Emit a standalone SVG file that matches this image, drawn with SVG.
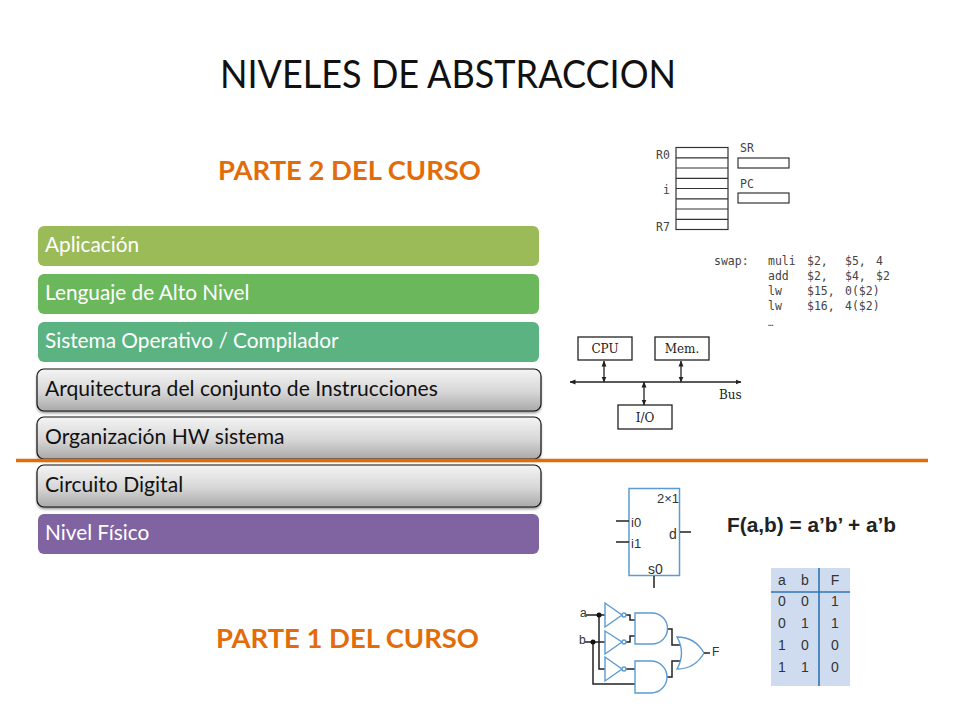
<svg xmlns="http://www.w3.org/2000/svg" width="960" height="720" viewBox="0 0 960 720">
<style>
text{font-family:"Lato","Open Sans","Liberation Sans",sans-serif}
.bar{font-size:20.800px;fill:#fff}
.gr{font-size:21.100px;fill:#111}
.head{font-size:27.400px;font-weight:700;fill:#e36c0a}
.k{fill:none;stroke:#333;stroke-width:1.2}
.m{font-family:"DejaVu Sans Mono",monospace;font-size:11.5px;fill:#444}
.s{font-family:"DejaVu Serif","Liberation Serif",serif;font-size:12px;fill:#222}
.b{fill:none;stroke:#222;stroke-width:1.3}
.bl{fill:#fff;stroke:#5b9bd5;stroke-width:1.4}
.w{fill:none;stroke:#222;stroke-width:1.5}
.a{font-family:"Liberation Sans",sans-serif;fill:#333;font-size:13px}
.f{font-family:"Liberation Sans",sans-serif;font-weight:700;font-size:20px;fill:#222}
.t{font-family:"Liberation Sans",sans-serif;fill:#333;font-size:14px;text-anchor:middle}
</style>
<defs>
<linearGradient id="g" x1="0" y1="0" x2="0" y2="1"><stop offset="0" stop-color="#f4f4f4"/><stop offset="0.55" stop-color="#d6d6d6"/><stop offset="1" stop-color="#a9a9a9"/></linearGradient>
<filter id="sh" x="-5%" y="-20%" width="110%" height="150%"><feGaussianBlur stdDeviation="1.5"/></filter>
<marker id="ah" viewBox="0 0 6 6" refX="5.5" refY="3" markerWidth="6" markerHeight="6" orient="auto-start-reverse" markerUnits="userSpaceOnUse"><path d="M0 0.5L6 3L0 5.500z" fill="#222"/></marker>
</defs>
<rect width="960" height="720" fill="#fff"/>
<text id="title" x="220" y="88" font-size="38" fill="#111" textLength="456" lengthAdjust="spacingAndGlyphs">NIVELES DE ABSTRACCION</text>
<text id="parte2" class="head" x="218" y="180">PARTE 2 DEL CURSO</text>
<text id="parte1" class="head" x="216" y="648">PARTE 1 DEL CURSO</text>

<g id="n-aplicacion"><rect x="38" y="226" width="501" height="40" rx="6" fill="#9bbb59"/><text class="bar" x="45" y="252">Aplicación</text></g>
<g id="n-lenguaje"><rect x="38" y="274" width="501" height="40" rx="6" fill="#6ab75c"/><text class="bar" x="45" y="300">Lenguaje de Alto Nivel</text></g>
<g id="n-sistema"><rect x="38" y="322" width="501" height="40" rx="6" fill="#5bb381"/><text class="bar" x="45" y="348">Sistema Operativo / Compilador</text></g>
<g id="n-arquitectura"><rect x="37" y="371" width="504" height="42" rx="7" fill="#888" filter="url(#sh)"/><rect x="37" y="369" width="504" height="42" rx="7" fill="url(#g)" stroke="#111" stroke-width="1.2"/><text class="gr" x="45" y="396">Arquitectura del conjunto de Instrucciones</text></g>
<g id="n-organizacion"><rect x="37" y="419" width="504" height="42" rx="7" fill="#888" filter="url(#sh)"/><rect x="37" y="417" width="504" height="42" rx="7" fill="url(#g)" stroke="#111" stroke-width="1.2"/><text class="gr" x="45" y="444">Organización HW sistema</text></g>
<g id="n-linea"><path d="M16 460.500H928" stroke="#e36c0a" stroke-width="3.500" fill="none"/></g>
<g id="n-circuito"><rect x="37" y="467" width="504" height="42" rx="7" fill="#888" filter="url(#sh)"/><rect x="37" y="465" width="504" height="42" rx="7" fill="url(#g)" stroke="#111" stroke-width="1.2"/><text class="gr" x="45" y="492">Circuito Digital</text></g>
<g id="n-fisico"><rect x="38" y="514" width="501" height="40" rx="6" fill="#8064a2"/><text class="bar" x="45" y="540">Nivel Físico</text></g>

<g id="n-registros">
<rect class="k" x="676" y="147.500" width="52" height="82"/>
<path class="k" d="M676 157.800H728M676 168H728M676 178.300H728M676 188.500H728M676 198.800H728M676 209H728M676 219.300H728"/>
<rect class="k" x="738" y="158" width="51" height="10"/>
<rect class="k" x="738" y="193" width="51" height="10"/>
<text class="m" x="656" y="159">R0</text><text class="m" x="663" y="194">i</text><text class="m" x="656" y="231">R7</text>
<text class="m" x="740" y="152">SR</text><text class="m" x="740" y="188">PC</text>
</g>
<g id="n-codigo">
<text class="m" x="714" y="265">swap:</text>
<text class="m" x="768" y="265">muli</text><text class="m" x="807" y="265">$2,</text><text class="m" x="845" y="265">$5,</text><text class="m" x="876" y="265">4</text>
<text class="m" x="768" y="280">add</text><text class="m" x="807" y="280">$2,</text><text class="m" x="845" y="280">$4,</text><text class="m" x="876" y="280">$2</text>
<text class="m" x="768" y="295">lw</text><text class="m" x="807" y="295">$15,</text><text class="m" x="845" y="295">0($2)</text>
<text class="m" x="768" y="310">lw</text><text class="m" x="807" y="310">$16,</text><text class="m" x="845" y="310">4($2)</text>
<text class="m" x="768" y="326" style="font-size:9px">…</text>
</g>

<g id="n-cpu"><rect class="b" x="578" y="337" width="54" height="23"/><text class="s" x="605" y="353" text-anchor="middle">CPU</text></g>
<g id="n-mem"><rect class="b" x="655" y="337" width="54" height="23"/><text class="s" x="682" y="353" text-anchor="middle">Mem.</text></g>
<g id="n-io"><rect class="b" x="618" y="405" width="54" height="24"/><text class="s" x="645" y="422" text-anchor="middle">I/O</text></g>
<g id="connectors">
<path class="b" style="stroke-width:1.6" d="M570 382H741" marker-start="url(#ah)" marker-end="url(#ah)"/>
<path class="b" d="M604 361V382" marker-start="url(#ah)" marker-end="url(#ah)"/>
<path class="b" d="M681 361V382" marker-start="url(#ah)" marker-end="url(#ah)"/>
<path class="b" d="M644 382V405" marker-start="url(#ah)" marker-end="url(#ah)"/>
</g>
<text id="n-bus" class="s" x="719" y="399">Bus</text>

<g id="n-mux">
<rect x="629" y="488.500" width="50.500" height="87" fill="#fff" stroke="#5b9bd5" stroke-width="1.500"/>
<path class="w" d="M616 521H629M616 542H629M680 532H691M654 576V588"/>
<text class="a" x="657" y="503">2×1</text>
<text class="a" x="631" y="527">i0</text><text class="a" x="631" y="548">i1</text>
<text class="a" x="669" y="539" style="font-size:14px">d</text><text class="a" x="648" y="574" style="font-size:14px">s0</text>
</g>
<text id="n-formula" class="f" x="727" y="532" textLength="169" lengthAdjust="spacingAndGlyphs">F(a,b) = a’b’ + a’b</text>

<g id="n-tabla">
<rect x="771" y="568" width="79" height="118" fill="#cfdcf0"/>
<path d="M771 592H850M819 568V686" stroke="#2e75b6" stroke-width="1.600" fill="none"/>
<text class="t" x="782" y="585">a</text><text class="t" x="805" y="585">b</text><text class="t" x="835" y="585">F</text>
<text class="t" x="782" y="606">0</text><text class="t" x="805" y="606">0</text><text class="t" x="835" y="606">1</text>
<text class="t" x="782" y="628">0</text><text class="t" x="805" y="628">1</text><text class="t" x="835" y="628">1</text>
<text class="t" x="782" y="650">1</text><text class="t" x="805" y="650">0</text><text class="t" x="835" y="650">0</text>
<text class="t" x="782" y="672">1</text><text class="t" x="805" y="672">1</text><text class="t" x="835" y="672">0</text>
</g>

<g id="n-circuito-logico">
<path class="w" d="M586 615H605M585 642H605M599 615V669H605M593 642V684H635M626 615H630V620H635M626 642H630V636H635M626 669H635M667 629H672V645H680M667 677H672V661H680"/>
<circle cx="599" cy="615" r="2.500" fill="#111"/><circle cx="593" cy="642" r="2.500" fill="#111"/>
<path class="bl" d="M605 603L622 615L605 627z"/><circle class="bl" cx="624" cy="615" r="2"/>
<path class="bl" d="M605 631L622 642L605 654z"/><circle class="bl" cx="624" cy="642" r="2"/>
<path class="bl" d="M605 657L622 669L605 681z"/><circle class="bl" cx="624" cy="669" r="2"/>
<path class="bl" d="M635 613H652A15.500 15.500 0 0 1 652 644H635z"/>
<path class="bl" d="M635 661H651A16 16 0 0 1 651 693H635z"/>
<path class="bl" d="M677 637Q695 637 704 653Q695 669 677 669Q686 653 677 637z"/>
<path class="w" d="M704 653H710"/>
<text class="a" x="580" y="617" style="font-size:12px">a</text><text class="a" x="579" y="644" style="font-size:12px">b</text><text class="a" x="712" y="656" style="font-size:12px">F</text>
</g>
</svg>
